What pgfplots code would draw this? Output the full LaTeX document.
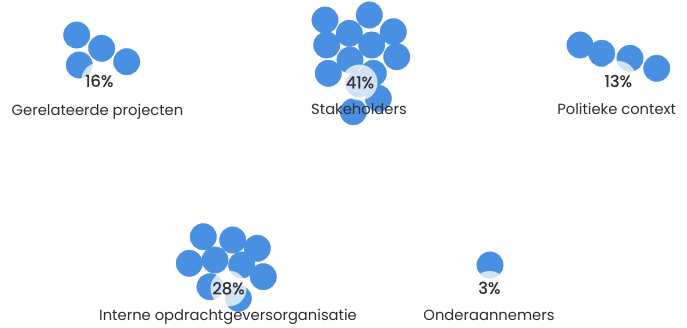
\documentclass[border=0pt]{standalone}
\usepackage{pgfplots}
\pgfplotsset{compat=1.18}
\usepackage{pgfplotstable}
\usepackage{fontspec}
\setmainfont{Poppins}
\newfontfamily\pctfont{Poppins}[FakeBold=0.7]
\definecolor{bub}{RGB}{74,144,226}
\definecolor{txt}{RGB}{45,45,50}

\pgfplotstableread{
x y
76.7 35
101.7 48.3
79.3 65
126.7 61.7
}\gerel
\pgfplotstableread{
x y
325 20
369.3 15
393.3 31.7
349.3 33.3
326.7 45
371.7 45
396.7 56.7
350 60
328.3 73.3
373.3 73.3
359 84
378.3 98.3
353.3 111.7
}\stake
\pgfplotstableread{
x y
580 45
601.7 53.3
630 58.3
656.7 68.3
}\polit
\pgfplotstableread{
x y
203.3 236.7
232.7 240
257.3 248.3
189.3 263.3
215 260
241.7 265
263.3 276.7
210 286.7
238.3 298.3
}\intern
\pgfplotstableread{
x y
490 265
}\onder
\pgfplotstableread{
x y
99.3 80.5
359.5 82.5
618.3 79
228.5 288.5
489.5 289
}\labs

\begin{document}
\begin{tikzpicture}
\begin{axis}[
  scale only axis, width=687bp, height=328bp,
  xmin=0, xmax=687, ymin=0, ymax=328, y dir=reverse,
  hide axis, clip=false,
  bubs/.style={only marks, mark=*, mark size=13.2bp, mark options={fill=bub, draw=bub, line width=0.4bp}},
]
\path (rel axis cs:0,0) rectangle (rel axis cs:1,1);
\addplot[bubs] table[x=x,y=y] {\gerel};
\addplot[bubs] table[x=x,y=y] {\stake};
\addplot[bubs] table[x=x,y=y] {\polit};
\addplot[bubs] table[x=x,y=y] {\intern};
\addplot[bubs] table[x=x,y=y] {\onder};
\addplot[only marks, mark=*, mark size=18bp, mark options={fill=white, fill opacity=0.75, draw opacity=0}] table[x=x,y=y] {\labs};
\coordinate (p1) at (axis cs:99.3,86.8);
\coordinate (p2) at (axis cs:360,88.3);
\coordinate (p3) at (axis cs:618.3,87);
\coordinate (p4) at (axis cs:228.5,294.2);
\coordinate (p5) at (axis cs:489.3,293.8);
\coordinate (l1) at (axis cs:97.5,115.5);
\coordinate (l2) at (axis cs:359,115);
\coordinate (l3) at (axis cs:616.7,114.3);
\coordinate (l4) at (axis cs:228,320.7);
\coordinate (l5) at (axis cs:489,320.7);
\end{axis}
\begin{scope}[every node/.style={text=txt, anchor=base, inner sep=0pt, font=\pctfont\fontsize{16.5}{18}\selectfont}]
\node at (p1) {16\%};
\node at (p2) {41\%};
\node at (p3) {13\%};
\node at (p4) {28\%};
\node at (p5) {3\%};
\end{scope}
\begin{scope}[every node/.style={text=txt, anchor=base, inner sep=0pt, font=\fontsize{14.8}{16}\selectfont}]
\node at (l1) {Gerelateerde projecten};
\node at (l2) {Stakeholders};
\node at (l3) {Politieke context};
\node at (l4) {Interne opdrachtgeversorganisatie};
\node at (l5) {Onderaannemers};
\end{scope}
\end{tikzpicture}
\end{document}
